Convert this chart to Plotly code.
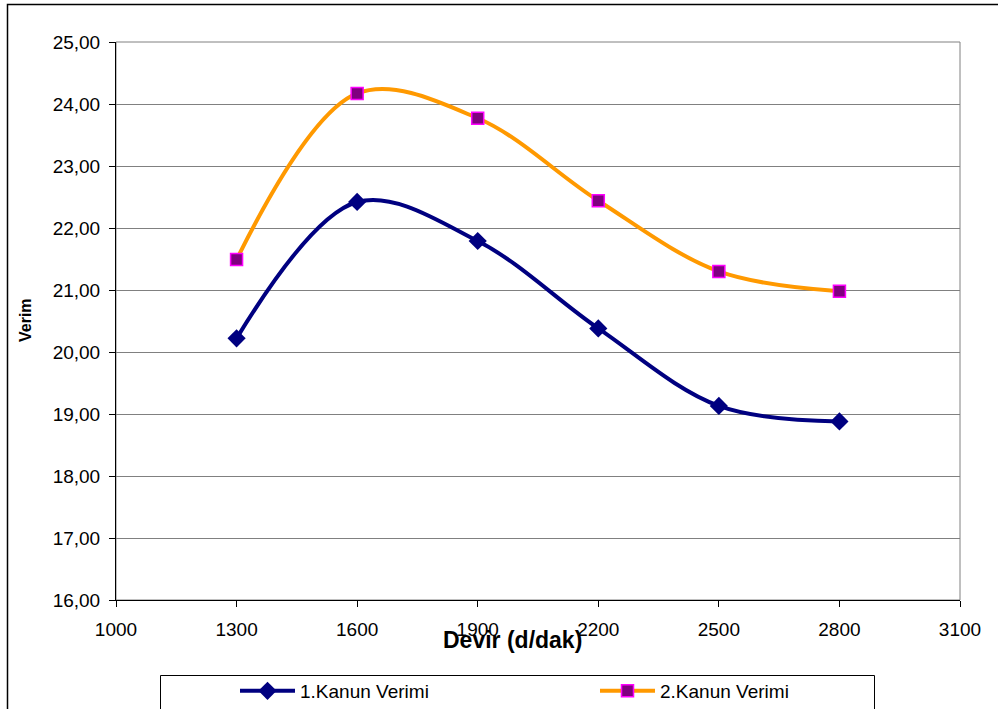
import plotly.graph_objects as go

devir = [1300, 1600, 1900, 2200, 2500, 2800]
kanun1 = [20.22, 22.42, 21.79, 20.38, 19.13, 18.88]
kanun2 = [21.49, 24.17, 23.77, 22.44, 21.30, 20.98]
x_ticks = [1000, 1300, 1600, 1900, 2200, 2500, 2800, 3100]
y_ticks = [16, 17, 18, 19, 20, 21, 22, 23, 24, 25]

W, H = 998, 709
ML, MR, MT, MB = 116, 38, 42, 109
PW, PH = W - ML - MR, H - MT - MB

def px(x):
    return (x - ML) / PW

def py(y):
    return (H - MB - y) / PH

FONT = "Liberation Sans, Arial, sans-serif"

fig = go.Figure()
fig.add_trace(go.Scatter(
    x=devir, y=kanun1, name="1.Kanun Verimi", mode="lines+markers",
    line=dict(color="#000080", width=4, shape="spline", smoothing=1),
    marker=dict(symbol="diamond", size=14, color="#000080"),
))
fig.add_trace(go.Scatter(
    x=devir, y=kanun2, name="2.Kanun Verimi", mode="lines+markers",
    line=dict(color="#FF9900", width=4, shape="spline", smoothing=1),
    marker=dict(symbol="square", size=12, color="#800080",
                line=dict(color="#FF00FF", width=1.5)),
))

fig.update_layout(
    width=W, height=H,
    margin=dict(l=ML, r=MR, t=MT, b=MB, pad=0, autoexpand=False),
    paper_bgcolor="white", plot_bgcolor="white",
    separators=",.",
    font=dict(family=FONT, size=19, color="black"),
    showlegend=True,
    legend=dict(orientation="h", x=px(235), y=py(672), xanchor="left", yanchor="top",
                bgcolor="rgba(0,0,0,0)", borderwidth=0,
                entrywidth=290, entrywidthmode="pixels",
                font=dict(family=FONT, size=19), itemwidth=55),
    xaxis=dict(range=[1000, 3100], tickvals=x_ticks, showgrid=False,
               showline=True, linecolor="black", linewidth=1,
               ticks="outside", ticklen=6, tickcolor="black",
               ticklabelstandoff=6, zeroline=False,
               tickfont=dict(family=FONT, size=19)),
    yaxis=dict(range=[16, 25], tickvals=y_ticks, tickformat=".2f",
               showgrid=True, gridcolor="#808080", gridwidth=1,
               showline=True, linecolor="black", linewidth=1,
               ticks="outside", ticklen=6, tickcolor="black",
               ticklabelstandoff=5, zeroline=False,
               tickfont=dict(family=FONT, size=19)),
    shapes=[
        dict(type="rect", xref="paper", yref="paper", x0=0, x1=1, y0=0, y1=1,
             line=dict(color="#808080", width=1), layer="below"),
        dict(type="rect", xref="paper", yref="paper", x0=px(7.5), x1=px(1010),
             y0=py(730), y1=py(4.5), line=dict(color="black", width=1.5)),
        dict(type="rect", xref="paper", yref="paper", x0=px(160.5), x1=px(874.5),
             y0=py(730), y1=py(675.5), line=dict(color="black", width=1)),
    ],
    annotations=[
        dict(text="<b>Devir (d/dak)</b>", xref="paper", yref="paper",
             x=px(512), y=py(640), xanchor="center", yanchor="middle",
             showarrow=False, font=dict(family=FONT, size=23)),
        dict(text="<b>Verim</b>", xref="paper", yref="paper",
             x=px(25), y=py(320), xanchor="center", yanchor="middle",
             textangle=-90, showarrow=False, font=dict(family=FONT, size=16)),
    ],
)

fig.write_html("out.html")
